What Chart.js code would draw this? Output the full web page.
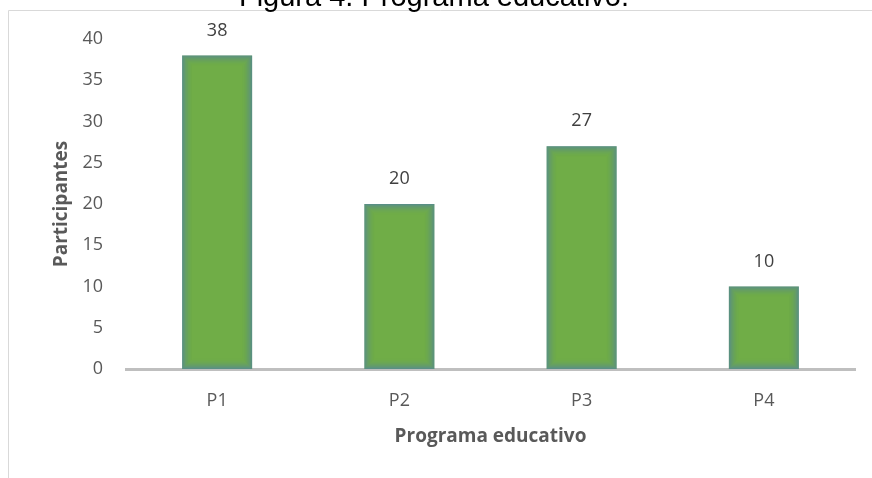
<!DOCTYPE html>
<html lang="es">
<head>
<meta charset="utf-8">
<title>Figura 4. Programa educativo.</title>
<script src="https://cdn.jsdelivr.net/npm/chart.js@4"></script>
<style>
  html, body { margin: 0; padding: 0; background: #ffffff; }
  #wrap { position: relative; width: 872px; height: 478px; }
</style>
</head>
<body>
<div id="wrap"><canvas id="programaChart" width="872" height="478"></canvas></div>
<script>
const programLabels = ["P1", "P2", "P3", "P4"];
const participantCounts = [38, 20, 27, 10];
const yTickMax = 40;
const yTickStep = 5;

const chartTitle = "Figura 4. Programa educativo.";
const xTitle = "Programa educativo";
const yTitle = "Participantes";

const labelFont = "'Open Sans', 'Liberation Sans', sans-serif";

// frame line + cut-off title above it
const framePlugin = {
  id: "frame",
  beforeDraw(chart) {
    const ctx = chart.ctx;
    ctx.save();
    ctx.strokeStyle = "#d9d9d9";
    ctx.lineWidth = 1;
    ctx.beginPath();
    ctx.moveTo(8.5, chart.height);
    ctx.lineTo(8.5, 10.5);
    ctx.lineTo(chart.width, 10.5);
    ctx.stroke();

    ctx.fillStyle = "#000000";
    ctx.font = "29px 'Liberation Sans', Arial, sans-serif";
    ctx.textAlign = "center";
    ctx.textBaseline = "alphabetic";
    ctx.fillText(chartTitle, 434, 6);
    ctx.restore();
  }
};

// blue soft inner edge on each bar + value labels above
const barFinishPlugin = {
  id: "barFinish",
  afterDatasetsDraw(chart) {
    const ctx = chart.ctx;
    const meta = chart.getDatasetMeta(0);
    ctx.save();
    meta.data.forEach((bar, i) => {
      const left = bar.x - bar.width / 2;
      const top = bar.y;
      const w = bar.width;
      const h = bar.base - bar.y;
      for (let k = 0; k < 11; k += 1) {
        const a = 0.5 * Math.pow(1 - k / 11, 2);
        ctx.strokeStyle = `rgba(68, 114, 196, ${a})`;
        ctx.lineWidth = 1;
        ctx.strokeRect(left + k + 0.5, top + k + 0.5, w - 2 * k - 1, h - 2 * k - 1);
      }

      ctx.fillStyle = "#404040";
      ctx.font = `18px ${labelFont}`;
      ctx.textAlign = "center";
      ctx.textBaseline = "middle";
      ctx.fillText(String(participantCounts[i]), bar.x, bar.y - 25);
    });
    ctx.restore();
  }
};

new Chart(document.getElementById("programaChart"), {
  type: "bar",
  data: {
    labels: programLabels,
    datasets: [
      {
        data: participantCounts,
        backgroundColor: "#70ad47",
        borderWidth: 0,
        barPercentage: 0.384,
        categoryPercentage: 1
      }
    ]
  },
  options: {
    responsive: false,
    animation: false,
    layout: {
      padding: { top: 39, right: 17, bottom: 0, left: 0 }
    },
    plugins: {
      legend: { display: false },
      tooltip: { enabled: false }
    },
    scales: {
      x: {
        afterFit(scale) {
          scale.height = 109;
        },
        grid: { display: false, drawTicks: false },
        border: { display: true, color: "#bfbfbf", width: 3 },
        ticks: {
          padding: 21,
          color: "#595959",
          font: { family: labelFont, size: 18 }
        },
        title: {
          display: true,
          text: xTitle,
          color: "#595959",
          padding: { top: 0, bottom: 30 },
          font: { family: labelFont, size: 19, weight: "bold" }
        }
      },
      y: {
        min: 0,
        max: yTickMax,
        afterFit(scale) {
          scale.width = 126;
        },
        grid: { display: false, drawTicks: false },
        border: { display: false },
        ticks: {
          stepSize: yTickStep,
          padding: 23,
          color: "#595959",
          font: { family: labelFont, size: 18 }
        },
        title: {
          display: true,
          text: yTitle,
          color: "#595959",
          padding: { top: 50, bottom: 0 },
          font: { family: labelFont, size: 19, weight: "bold" }
        }
      }
    }
  },
  plugins: [framePlugin, barFinishPlugin]
});
</script>
</body>
</html>
